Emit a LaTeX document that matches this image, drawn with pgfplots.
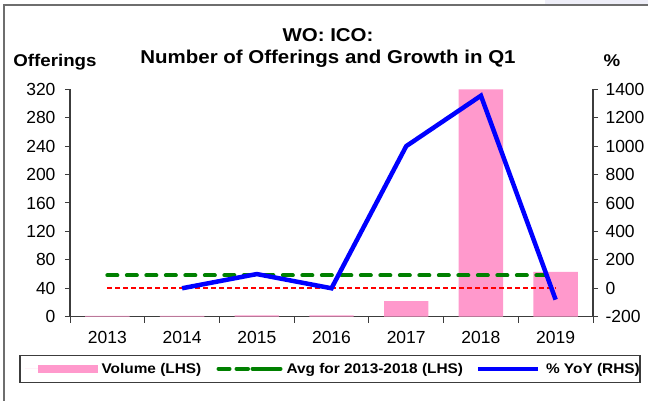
\documentclass[border=0pt]{standalone}
\usepackage{pgfplots}
\usepackage{pgfplotstable}
\pgfplotsset{compat=1.18}
\usepackage{fontspec}
\setmainfont{Liberation Sans}
\newfontfamily\boldf[FakeStretch=1.1]{Liberation Sans}
\definecolor{barpink}{RGB}{255,153,204}
\definecolor{avggreen}{RGB}{0,128,0}
\definecolor{yoyblue}{RGB}{0,0,255}
\definecolor{axgray}{RGB}{60,60,60}
\definecolor{framegray}{RGB}{110,110,110}
\definecolor{lav}{RGB}{238,238,248}

\pgfplotstableread{
x vol
0 1
1 1
2 2
3 2
4 22
5 320
6 63
}\voltable

\pgfplotstableread{
x avg
0 58
1 58
2 58
3 58
4 58
5 58
6 58
}\avgtable

\pgfplotstableread{
x zero
0 0
1 0
2 0
3 0
4 0
5 0
6 0
}\zerotable

\pgfplotstableread{
x yoy
1 0
2 100
3 0
4 1000
5 1355
6 -80
}\yoytable

\begin{document}
\begin{tikzpicture}
\path[use as bounding box] (0,0) rectangle (648bp,401bp);
\fill[lav] (545bp,396.7bp) rectangle (648bp,401bp);
\draw[framegray, line width=1.3bp] (4bp,0) -- (4bp,396bp) -- (648bp,396bp);

\pgfplotsset{
  every axis/.append style={
    at={(70bp,84.3bp)}, anchor=south west,
    scale only axis, width=523bp, height=227.4bp,
    xmin=-0.5, xmax=6.5,
    axis line style={axgray, line width=1.1bp},
    tick style={axgray, line width=1bp},
    tick align=outside,
    major tick length=5bp, minor tick length=6bp,
    tick label style={font=\fontsize{17.5bp}{20bp}\selectfont},
    /pgf/number format/assume math mode=true,
    /pgf/number format/1000 sep={},
    clip=false,
  }
}

\begin{axis}[
  ymin=0, ymax=320,
  axis x line*=bottom, axis y line*=left,
  xtick={0,1,2,3,4,5,6},
  xticklabels={2013,2014,2015,2016,2017,2018,2019},
  major x tick style={draw=none},
  minor xtick={-0.5,0.5,1.5,2.5,3.5,4.5,5.5,6.5},
  ytick={0,40,80,120,160,200,240,280,320},
  xticklabel style={yshift=-6bp},
  yticklabel style={xshift=-6bp},
  legend columns=3,
  legend style={
    at={(-0.0966,-0.2291)}, anchor=west,
    draw=axgray, line width=1.1bp,
    inner xsep=5bp, inner ysep=7.5bp,
    column sep=0pt,
    nodes={inner sep=0pt},
    font=\boldf\bfseries\fontsize{14bp}{16bp}\selectfont,
  },
]
\addplot[ybar, bar width=44.4bp, fill=barpink, draw=none,
  legend image code/.code={
    \path (-12.5bp,0) -- (60bp,0);
    \fill[barpink] (0bp,-4bp) rectangle (60bp,4bp);
  }]
  table[x=x, y=vol] {\voltable};
\addlegendentry{\hspace*{4bp}\makebox[102bp][l]{Volume (LHS)}\hspace*{13bp}}

\addplot[avggreen, line width=4bp, dash pattern=on 10bp off 9.5bp, line cap=round,
  legend image code/.code={
    \path (0bp,0) -- (62bp,0);
    \draw[avggreen, line width=4bp, dash pattern=on 9bp off 7bp, line cap=round] (2bp,0) -- (60bp,0);
  }]
  table[x=x, y=avg] {\avgtable};
\addlegendentry{\hspace*{4bp}\makebox[174bp][l]{Avg for 2013-2018 (LHS)}\hspace*{15bp}}

\addlegendimage{legend image code/.code={
    \path (0bp,0) -- (60bp,0);
    \draw[yoyblue, line width=4.5bp] (0bp,0) -- (60bp,0);
  }}
\addlegendentry{\hspace*{6bp}\makebox[89bp][l]{\% YoY (RHS)}}
\end{axis}

\begin{axis}[
  ymin=-200, ymax=1400,
  axis x line=none, axis y line*=right,
  ytick={-200,0,200,400,600,800,1000,1200,1400},
  yticklabel style={xshift=4bp},
]
\addplot[red, line width=1.6bp, dash pattern=on 5bp off 3bp]
  table[x=x, y=zero] {\zerotable};
\addplot[yoyblue, line width=4.5bp]
  table[x=x, y=yoy] {\yoytable};
\end{axis}

\node[anchor=base, font=\boldf\bfseries\fontsize{18.6bp}{22bp}\selectfont] at (328bp,359.3bp) {WO: ICO:};
\node[anchor=base, font=\boldf\bfseries\fontsize{18.6bp}{22bp}\selectfont] at (328bp,337.7bp) {Number of Offerings and Growth in Q1};
\node[anchor=base, font=\boldf\bfseries\fontsize{17bp}{20bp}\selectfont] at (55bp,334bp) {Offerings};
\node[anchor=base, font=\boldf\bfseries\fontsize{17bp}{20bp}\selectfont] at (612bp,334bp) {\%};
\end{tikzpicture}
\end{document}
